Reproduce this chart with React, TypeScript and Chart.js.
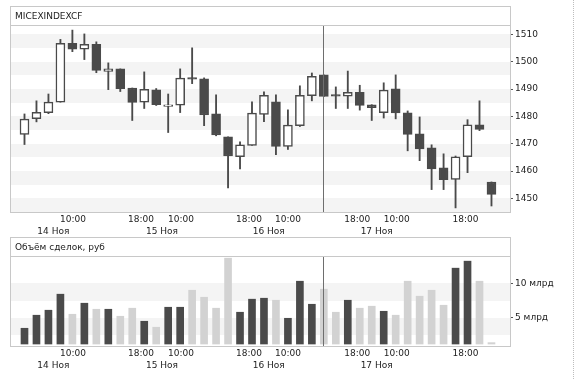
import React, { useEffect, useRef } from 'react';
import { Chart, registerables } from 'chart.js';

Chart.register(...registerables);

// ---------- data ----------
const opens = [
  1473.4, 1479.2, 1481.4, 1485.2, 1506.8, 1504.6, 1506.4, 1496.5, 1497.4, 1490.4,
  1485.2, 1489.7, 1483.7, 1484.1, 1494.2, 1493.8, 1480.9, 1472.5, 1465.3, 1469.4,
  1480.7, 1485.3, 1469.0, 1476.6, 1487.6, 1495.2, 1487.4, 1487.4, 1488.8, 1484.2,
  1481.4, 1490.1, 1481.3, 1473.6, 1468.5, 1461.2, 1456.9, 1465.3, 1476.9, 1456.0,
];
const highs = [
  1480.9, 1485.7, 1488.2, 1508.2, 1511.6, 1510.2, 1507.3, 1499.6, 1497.4, 1490.4,
  1496.3, 1490.2, 1488.2, 1497.4, 1505.1, 1494.1, 1487.9, 1472.5, 1470.7, 1485.3,
  1489.0, 1487.9, 1482.4, 1491.2, 1495.9, 1495.2, 1490.8, 1496.6, 1491.4, 1484.3,
  1492.3, 1495.2, 1482.0, 1479.8, 1469.6, 1466.3, 1465.5, 1478.8, 1485.7, 1456.0,
];
const lows = [
  1469.7, 1478.0, 1481.0, 1485.2, 1503.7, 1500.8, 1496.0, 1489.8, 1489.1, 1478.5,
  1482.9, 1484.0, 1474.1, 1481.4, 1492.0, 1476.6, 1472.9, 1453.8, 1460.8, 1469.4,
  1478.1, 1466.0, 1467.9, 1476.3, 1485.7, 1487.3, 1482.9, 1482.9, 1482.3, 1478.5,
  1479.4, 1479.1, 1467.4, 1463.8, 1453.2, 1453.2, 1446.5, 1459.4, 1474.8, 1447.2,
];
const closes = [
  1479.0, 1481.5, 1485.2, 1506.8, 1504.6, 1506.4, 1496.8, 1497.4, 1490.2, 1485.1,
  1489.9, 1484.3, 1484.1, 1494.0, 1493.6, 1480.5, 1473.2, 1465.5, 1469.6, 1481.2,
  1487.7, 1469.0, 1476.8, 1487.7, 1494.7, 1487.3, 1487.4, 1488.8, 1484.0, 1483.2,
  1489.6, 1481.3, 1473.4, 1468.1, 1460.8, 1456.8, 1465.2, 1476.9, 1475.2, 1451.4,
];
// volume, billions of roubles
const volumes = [
  3.52, 5.40, 6.12, 8.43, 5.54, 7.13, 6.26, 6.26, 5.25, 6.41,
  4.53, 3.67, 6.55, 6.55, 9.00, 7.99, 6.41, 13.62, 5.83, 7.71,
  7.85, 7.56, 4.96, 10.30, 6.98, 9.15, 5.83, 7.56, 6.41, 6.70,
  5.97, 5.40, 10.30, 8.14, 9.00, 6.84, 12.18, 13.19, 10.30, 1.45,
];

const timeTickValues = [4.05, 9.73, 13.07, 18.75, 22.01, 27.79, 31.08, 36.83];
const timeTickLabels = ['10:00', '18:00', '10:00', '18:00', '10:00', '18:00', '10:00', '18:00'];
const dateTickValues = [2.41, 11.48, 20.4, 29.41];
const dateTickLabels = ['14 Ноя', '15 Ноя', '16 Ноя', '17 Ноя'];
const priceTicks = [1450, 1460, 1470, 1480, 1490, 1500, 1510];
const volumeTicks = [5, 10];
const priceTitle = 'MICEXINDEXCF';
const volumeTitle = 'Объём сделок, руб';
const volumeUnit = 'млрд';
const crosshairIndex = 25;

// ---------- styles ----------
const FONT_FAMILY = "'DejaVu Sans', Verdana, sans-serif";
const FONT = { family: FONT_FAMILY, size: 9 };
const TEXT = '#222222';
const DARK = '#4a4a4a';
const LIGHT = '#d2d2d2';
const BAND = '#f4f4f4';
const FRAME = '#c8c8c8';
const CROSS = '#6e6e6e';
const X_MIN = -1.127;
const X_MAX = 40.547;
const HEADER = 20.5;

function makePanelPlugin(title: string, bandTicks: number[], bandSize: number) {
  return {
    id: 'panelFrame',
    beforeDatasetsDraw(chart: any) {
      const { ctx, chartArea } = chart;
      const y = chart.scales.y;
      ctx.save();
      ctx.beginPath();
      ctx.rect(chartArea.left, chartArea.top, chartArea.right - chartArea.left, chartArea.bottom - chartArea.top);
      ctx.clip();
      ctx.fillStyle = BAND;
      for (const t of bandTicks) {
        const yTop = Math.round(y.getPixelForValue(t));
        const yBot = Math.round(y.getPixelForValue(t - bandSize));
        ctx.fillRect(chartArea.left, yTop, chartArea.right - chartArea.left, yBot - yTop);
      }
      ctx.restore();
    },
    afterDatasetsDraw(chart: any) {
      const { ctx, chartArea } = chart;
      const x = Math.floor(chart.scales.x.getPixelForValue(crosshairIndex)) + 0.5;
      ctx.save();
      ctx.strokeStyle = CROSS;
      ctx.lineWidth = 1;
      ctx.beginPath();
      ctx.moveTo(x, chartArea.top);
      ctx.lineTo(x, chartArea.bottom);
      ctx.stroke();
      ctx.restore();
    },
    afterDraw(chart: any) {
      const { ctx, chartArea } = chart;
      const L = Math.round(chartArea.left) - 0.5;
      const R = Math.round(chartArea.right) + 0.5;
      const T = Math.round(chartArea.top - HEADER) + 0.5;
      const B = Math.round(chartArea.bottom) + 0.5;
      const S = Math.round(chartArea.top) - 0.5;
      ctx.save();
      ctx.strokeStyle = FRAME;
      ctx.lineWidth = 1;
      ctx.strokeRect(L, T, R - L, B - T);
      ctx.beginPath();
      ctx.moveTo(L, S);
      ctx.lineTo(R, S);
      ctx.stroke();
      ctx.fillStyle = TEXT;
      ctx.font = `${FONT.size}px ${FONT_FAMILY}`;
      ctx.textBaseline = 'middle';
      ctx.textAlign = 'left';
      ctx.fillText(title, chartArea.left + 4, (T + S) / 2 + 0.5);
      ctx.restore();
    },
  };
}

function timeAxes() {
  return {
    x: {
      type: 'linear',
      position: 'bottom',
      min: X_MIN,
      max: X_MAX,
      offset: false,
      weight: 0,
      afterBuildTicks: (s: any) => {
        s.ticks = timeTickValues.map((v) => ({ value: v }));
      },
      afterFit: (s: any) => {
        s.height = 13;
      },
      grid: { display: false, drawTicks: false },
      border: { display: false },
      ticks: {
        autoSkip: false,
        maxRotation: 0,
        padding: 2,
        font: FONT,
        color: TEXT,
        callback: (_v: any, i: number) => timeTickLabels[i],
      },
    },
    x2: {
      type: 'linear',
      axis: 'x',
      position: 'bottom',
      min: X_MIN,
      max: X_MAX,
      offset: false,
      weight: 1,
      afterBuildTicks: (s: any) => {
        s.ticks = dateTickValues.map((v) => ({ value: v }));
      },
      afterFit: (s: any) => {
        s.height = 13;
      },
      grid: { display: false, drawTicks: false },
      border: { display: false },
      ticks: {
        autoSkip: false,
        maxRotation: 0,
        padding: 1.5,
        font: FONT,
        color: TEXT,
        callback: (_v: any, i: number) => dateTickLabels[i],
      },
    },
  };
}

const idx = opens.map((_, i) => i);
const isUp = (i: number) => closes[i] > opens[i];

function priceConfig(): any {
  return {
    type: 'bar',
    data: {
      datasets: [
        {
          label: 'body',
          data: idx.map((i) => ({ x: i, y: [opens[i], closes[i]] })),
          backgroundColor: idx.map((i) => (isUp(i) ? '#ffffff' : DARK)),
          borderColor: DARK,
          borderWidth: 1.5,
          borderSkipped: false,
          barThickness: 9,
          minBarLength: 1.5,
          grouped: false,
          order: 0,
        },
        {
          label: 'wick',
          data: idx.map((i) => ({ x: i, y: [lows[i], highs[i]] })),
          backgroundColor: DARK,
          borderWidth: 0,
          barThickness: 1.2,
          grouped: false,
          order: 1,
        },
      ],
    },
    options: {
      responsive: false,
      animation: false,
      events: [],
      layout: { padding: { left: 11, right: 0, top: 26, bottom: 141 } },
      plugins: { legend: { display: false }, tooltip: { enabled: false }, title: { display: false } },
      scales: {
        ...timeAxes(),
        y: {
          type: 'linear',
          position: 'right',
          min: 1445,
          max: 1513.1,
          beginAtZero: false,
          afterBuildTicks: (s: any) => {
            s.ticks = priceTicks.map((v) => ({ value: v }));
          },
          afterFit: (s: any) => {
            s.width = 68;
          },
          grid: { drawOnChartArea: false, drawTicks: true, tickLength: 3, color: '#555555', lineWidth: 1 },
          border: { display: false },
          ticks: { padding: 2, font: FONT, color: TEXT, callback: (v: any) => String(v) },
        },
      },
    },
    plugins: [makePanelPlugin(priceTitle, priceTicks, 5)],
  };
}

function volumeConfig(): any {
  return {
    type: 'bar',
    data: {
      datasets: [
        {
          label: volumeTitle,
          data: idx.map((i) => ({ x: i, y: volumes[i] })),
          backgroundColor: idx.map((i) => (isUp(i) ? DARK : LIGHT)),
          borderWidth: 0,
          barThickness: 7,
          base: 1.25,
          grouped: false,
        },
      ],
    },
    options: {
      responsive: false,
      animation: false,
      events: [],
      layout: { padding: { left: 11, right: 0, top: 257, bottom: 7 } },
      plugins: { legend: { display: false }, tooltip: { enabled: false }, title: { display: false } },
      scales: {
        ...timeAxes(),
        y: {
          type: 'linear',
          position: 'right',
          min: 0.965,
          max: 13.79,
          beginAtZero: false,
          afterBuildTicks: (s: any) => {
            s.ticks = volumeTicks.map((v) => ({ value: v }));
          },
          afterFit: (s: any) => {
            s.width = 68;
          },
          grid: { drawOnChartArea: false, drawTicks: true, tickLength: 3, color: '#555555', lineWidth: 1 },
          border: { display: false },
          ticks: { padding: 2, font: FONT, color: TEXT, callback: (v: any) => `${v} ${volumeUnit}` },
        },
      },
    },
    plugins: [makePanelPlugin(volumeTitle, volumeTicks, 2.5)],
  };
}

export default function App() {
  const priceRef = useRef<HTMLCanvasElement>(null);
  const volRef = useRef<HTMLCanvasElement>(null);

  useEffect(() => {
    const price = new Chart(priceRef.current as HTMLCanvasElement, priceConfig());
    const vol = new Chart(volRef.current as HTMLCanvasElement, volumeConfig());
    return () => {
      price.destroy();
      vol.destroy();
    };
  }, []);

  return (
    <div
      style={{
        position: 'absolute',
        left: 0,
        top: 0,
        width: 578,
        height: 379,
        background: '#ffffff',
        overflow: 'hidden',
      }}
    >
      <canvas ref={priceRef} width={578} height={379} style={{ position: 'absolute', left: 0, top: 0 }} />
      <canvas ref={volRef} width={578} height={379} style={{ position: 'absolute', left: 0, top: 0 }} />
      <div
        style={{
          position: 'absolute',
          left: 573,
          top: 0,
          width: 0,
          height: 379,
          borderLeft: '1px dotted #bdbdbd',
        }}
      />
    </div>
  );
}
